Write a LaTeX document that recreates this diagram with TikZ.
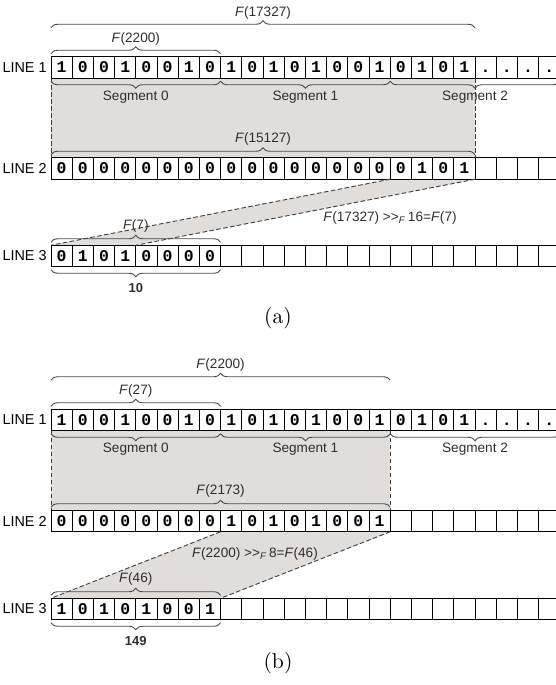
\documentclass[tikz,border=0pt]{standalone}
\usepackage{fontspec}
\usepackage{tikz}
\usetikzlibrary{positioning,calc,backgrounds,decorations.pathreplacing}
\newfontfamily\lblfont{Liberation Sans}
\newfontfamily\bitfont{Liberation Mono}
\definecolor{shadegrey}{HTML}{E1DDDA}
\definecolor{bracegrey}{HTML}{4A4A4A}
\definecolor{dashgrey}{HTML}{3C3C3C}
\definecolor{labelgrey}{HTML}{2E2E2E}
\tikzset{
  cell/.style={draw=black,line width=0.5pt,fill=white,minimum width=10.6pt,minimum height=10.75pt,inner sep=0pt,outer sep=0pt},
  bit/.style={font=\bitfont\bfseries\fontsize{8.2}{9}\selectfont,inner sep=0pt,text height=5pt,text depth=0pt},
  linelbl/.style={font=\lblfont\fontsize{7.2}{8}\selectfont,text=black,inner sep=0pt},
  flbl/.style={font=\lblfont\fontsize{6.8}{8}\selectfont,text=labelgrey,inner sep=0pt},
  numlbl/.style={font=\lblfont\bfseries\fontsize{6.5}{8}\selectfont,text=labelgrey,inner sep=0pt},
  brc/.style={decorate,decoration={brace,amplitude=3.5pt,raise=1.5pt},draw=bracegrey,line width=0.45pt},
  shade/.style={fill=shadegrey,draw=none},
  cut/.style={draw=dashgrey,dash pattern=on 2.3pt off 1.2pt,line width=0.45pt},
  caption/.style={font=\fontsize{10.8}{12}\selectfont,inner sep=0pt}}
\newcommand{\bitrow}[3]{%
  \foreach \i in {1,...,24}
    \node[cell] (#1c\i) at ({51+(\i-0.5)*21.2},#2) {};
  \foreach \b [count=\i] in {#3}
    \node[bit] (#1b\i) at (#1c\i) {\b};}

\begin{document}
\begin{tikzpicture}[x=0.5pt,y=-0.5pt]
  \useasboundingbox (0,0) rectangle (556,685);
  \clip (0,0) rectangle (556,685);
  % (a)
  \bitrow{a1}{67.5}{1,0,0,1,0,0,1,0,1,0,1,0,1,0,0,1,0,1,0,1,.,.,.,.}
  \bitrow{a2}{168.5}{0,0,0,0,0,0,0,0,0,0,0,0,0,0,0,0,0,1,0,1}
  \bitrow{a3}{256}{0,1,0,1,0,0,0,0}
  \node[linelbl,left=2pt of a1c1] (a1l) {LINE 1};
  \node[linelbl,left=2pt of a2c1] (a2l) {LINE 2};
  \node[linelbl,left=2pt of a3c1] (a3l) {LINE 3};
  \begin{scope}[on background layer]
    \fill[shade] (a1c1.south west) -- (a1c20.south east) -- (a2c20.north east) -- (a2c1.north west) -- cycle;
    \fill[shade] (a2c17.south west) -- (a2c20.south east) -- (a3c4.north east) -- (a3c1.north west) -- cycle;
  \end{scope}
  \draw[cut] (a1c1.south west) -- (a2c1.north west);
  \draw[cut] (a1c20.south east) -- (a2c20.north east);
  \draw[cut] (a2c17.south west) -- (a3c1.north west);
  \draw[cut] (a2c20.south east) -- (a3c4.north east);
  \draw[brc] ([yshift=13pt]a1c1.north west) -- node[flbl,midway,above=5.5pt] (a1f0) {\textit{F}(17327)} ([yshift=13pt]a1c20.north east);
  \draw[brc] (a1c1.north west) -- node[flbl,midway,above=5.5pt] (a1f1) {\textit{F}(2200)} (a1c8.north east);
  \draw[brc] (a1c8.south east) -- node[flbl,midway,below=6pt] (a1s0) {Segment 0} (a1c1.south west);
  \draw[brc] (a1c16.south east) -- node[flbl,midway,below=6pt] (a1s1) {Segment 1} (a1c9.south west);
  \draw[brc] (a1c24.south east) -- node[flbl,midway,below=6pt] (a1s2) {Segment 2} (a1c17.south west);
  \draw[brc] (a2c1.north west) -- node[flbl,midway,above=6pt] (a2f) {\textit{F}(15127)} (a2c20.north east);
  \draw[brc] (a3c1.north west) -- node[flbl,midway,above=6pt] (a3f) {\textit{F}(7)} (a3c8.north east);
  \draw[brc] (a3c8.south east) -- node[numlbl,midway,below=8.3pt] (a3n) {10} (a3c1.south west);
  \node[flbl] (shiftA) at (390,218) {\textit{F}(17327) >{}>\textsubscript{\itshape F}\,16=\textit{F}(7)};
  \node[caption] (capA) at (278,318) {(a)};
  % (b)
  \bitrow{b1}{420}{1,0,0,1,0,0,1,0,1,0,1,0,1,0,0,1,0,1,0,1,.,.,.,.}
  \bitrow{b2}{521}{0,0,0,0,0,0,0,0,1,0,1,0,1,0,0,1}
  \bitrow{b3}{609}{1,0,1,0,1,0,0,1}
  \node[linelbl,left=2pt of b1c1] (b1l) {LINE 1};
  \node[linelbl,left=2pt of b2c1] (b2l) {LINE 2};
  \node[linelbl,left=2pt of b3c1] (b3l) {LINE 3};
  \begin{scope}[on background layer]
    \fill[shade] (b1c1.south west) -- (b1c16.south east) -- (b2c16.north east) -- (b2c1.north west) -- cycle;
    \fill[shade] (b2c9.south west) -- (b2c16.south east) -- (b3c8.north east) -- (b3c1.north west) -- cycle;
  \end{scope}
  \draw[cut] (b1c1.south west) -- (b2c1.north west);
  \draw[cut] (b1c16.south east) -- (b2c16.north east);
  \draw[cut] (b2c9.south west) -- (b3c1.north west);
  \draw[cut] (b2c16.south east) -- (b3c8.north east);
  \draw[brc] ([yshift=13pt]b1c1.north west) -- node[flbl,midway,above=5.5pt] (b1f0) {\textit{F}(2200)} ([yshift=13pt]b1c16.north east);
  \draw[brc] (b1c1.north west) -- node[flbl,midway,above=5.5pt] (b1f1) {\textit{F}(27)} (b1c8.north east);
  \draw[brc] (b1c8.south east) -- node[flbl,midway,below=6pt] (b1s0) {Segment 0} (b1c1.south west);
  \draw[brc] (b1c16.south east) -- node[flbl,midway,below=6pt] (b1s1) {Segment 1} (b1c9.south west);
  \draw[brc] (b1c24.south east) -- node[flbl,midway,below=6pt] (b1s2) {Segment 2} (b1c17.south west);
  \draw[brc] (b2c1.north west) -- node[flbl,midway,above=6pt] (b2f) {\textit{F}(2173)} (b2c16.north east);
  \draw[brc] (b3c1.north west) -- node[flbl,midway,above=6pt] (b3f) {\textit{F}(46)} (b3c8.north east);
  \draw[brc] (b3c8.south east) -- node[numlbl,midway,below=8pt] (b3n) {149} (b3c1.south west);
  \node[flbl] (shiftB) at (255,554) {\textit{F}(2200) >{}>\textsubscript{\itshape F}\,8=\textit{F}(46)};
  \node[caption] (capB) at (278,663) {(b)};
\end{tikzpicture}
\end{document}
